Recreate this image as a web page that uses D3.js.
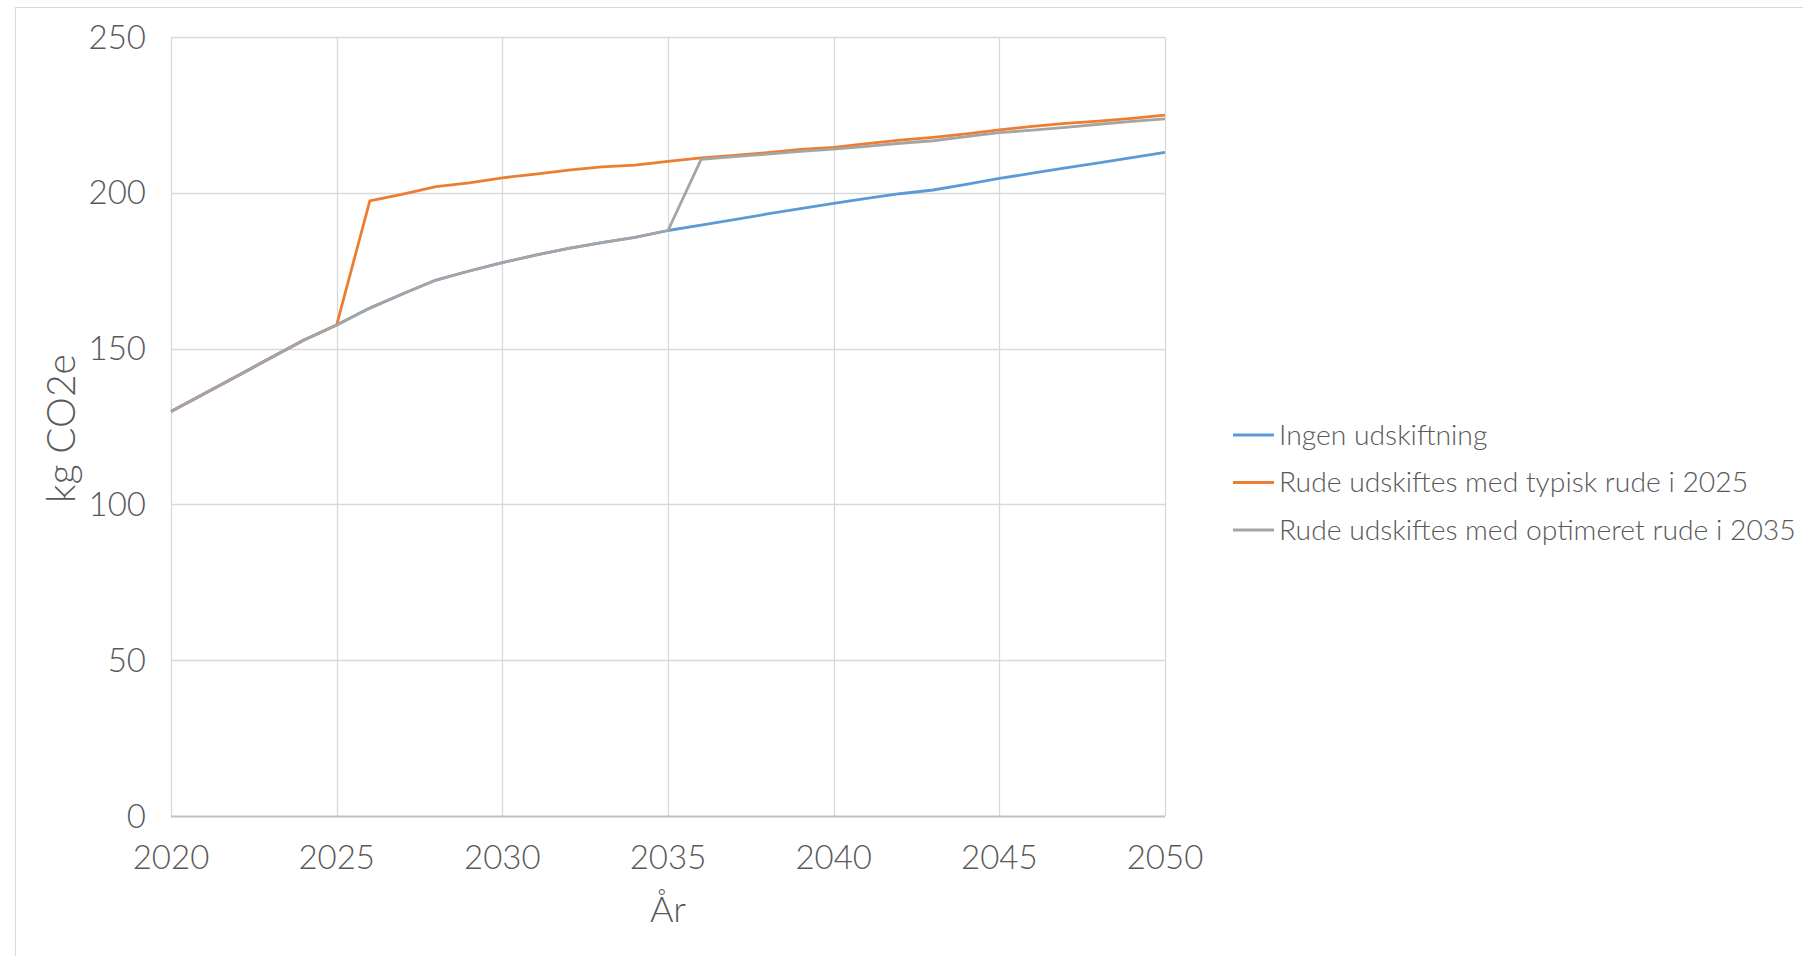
<!DOCTYPE html>
<html>
<head>
<meta charset="utf-8">
<script src="https://cdn.jsdelivr.net/npm/d3@7"></script>
<style>
  html, body { margin: 0; padding: 0; background: #fff; }
  svg text { font-family: Lato, "Open Sans", sans-serif; font-weight: 300; fill: #595959; }
</style>
</head>
<body>
<div id="chart"></div>
<script>
// years on the x axis
const years = d3.range(2020, 2051);

// kg CO2e per year
const ingenUdskiftning = [
  129.8, 135.5, 141.2, 147.0, 152.7, 157.6, 163.0, 167.6, 172.0, 174.9,
  177.6, 180.0, 182.2, 184.0, 185.7, 187.9, 189.6, 191.4, 193.2, 194.9,
  196.6, 198.2, 199.7, 200.9, 202.7, 204.6, 206.3, 208.0, 209.6, 211.3, 213.0
];
const typiskRude2025 = [
  129.8, 135.5, 141.2, 147.0, 152.7, 157.6, 197.4, 199.6, 202.0, 203.2,
  204.8, 206.0, 207.3, 208.3, 208.9, 210.1, 211.2, 212.0, 212.9, 213.9,
  214.6, 215.8, 216.9, 217.8, 218.9, 220.2, 221.3, 222.3, 223.0, 223.9, 224.9
];
const optimeretRude2035 = [
  129.8, 135.5, 141.2, 147.0, 152.7, 157.6, 163.0, 167.6, 172.0, 174.9,
  177.6, 180.0, 182.2, 184.0, 185.7, 187.9, 210.7, 211.6, 212.4, 213.3,
  214.0, 214.9, 215.9, 216.7, 218.0, 219.3, 220.1, 221.0, 222.0, 222.9, 223.7
];

const seriesNames = [
  "Ingen udskiftning",
  "Rude udskiftes med typisk rude i 2025",
  "Rude udskiftes med optimeret rude i 2035"
];
const seriesColors = ["#5b9bd5", "#ed7d31", "#a5a5a5"];
const xTicks = [2020, 2025, 2030, 2035, 2040, 2045, 2050];
const yTicks = [0, 50, 100, 150, 200, 250];

const width = 1803,
  height = 956;
const plot = { left: 171, right: 1165, top: 37, bottom: 816 };

const svg = d3
  .select("#chart")
  .append("svg")
  .attr("width", width)
  .attr("height", height);

// outer chart frame
svg
  .append("rect")
  .attr("x", 15.5)
  .attr("y", 7.5)
  .attr("width", width)
  .attr("height", height)
  .style("fill", "none")
  .style("stroke", "#d9d9d9");

const x = d3.scaleLinear().domain([2020, 2050]).range([plot.left, plot.right]);
const y = d3.scaleLinear().domain([0, 250]).range([plot.bottom, plot.top]);

// gridlines
svg
  .append("g")
  .selectAll("line.hgrid")
  .data(yTicks.filter((d) => d > 0))
  .join("line")
  .attr("x1", plot.left)
  .attr("x2", plot.right)
  .attr("y1", (d) => Math.round(y(d)) + 0.5)
  .attr("y2", (d) => Math.round(y(d)) + 0.5)
  .style("stroke", "#d9d9d9")
  .style("stroke-width", 1.3);

svg
  .append("g")
  .selectAll("line.vgrid")
  .data(xTicks)
  .join("line")
  .attr("x1", (d) => Math.round(x(d)) + 0.5)
  .attr("x2", (d) => Math.round(x(d)) + 0.5)
  .attr("y1", plot.top)
  .attr("y2", plot.bottom)
  .style("stroke", "#d9d9d9")
  .style("stroke-width", 1.3);

// x axis base line
svg
  .append("line")
  .attr("x1", plot.left)
  .attr("x2", plot.right)
  .attr("y1", Math.round(y(0)) + 0.5)
  .attr("y2", Math.round(y(0)) + 0.5)
  .style("stroke", "#bfbfbf")
  .style("stroke-width", 2);

// tick labels
svg
  .append("g")
  .selectAll("text")
  .data(yTicks)
  .join("text")
  .attr("x", plot.left - 25)
  .attr("y", (d) => y(d))
  .attr("dy", "0.35em")
  .attr("text-anchor", "end")
  .style("font-size", "33px")
  .text((d) => d);

svg
  .append("g")
  .selectAll("text")
  .data(xTicks)
  .join("text")
  .attr("x", (d) => x(d))
  .attr("y", plot.bottom + 53)
  .attr("text-anchor", "middle")
  .style("font-size", "33px")
  .text((d) => d);

// axis titles
svg
  .append("text")
  .attr("transform", `translate(75, ${(plot.top + plot.bottom) / 2 + 2}) rotate(-90)`)
  .attr("text-anchor", "middle")
  .style("font-size", "39px")
  .text("kg CO2e");

svg
  .append("text")
  .attr("x", (plot.left + plot.right) / 2)
  .attr("y", 922)
  .attr("text-anchor", "middle")
  .style("font-size", "36px")
  .text("År");

// lines
const allSeries = [ingenUdskiftning, typiskRude2025, optimeretRude2035];
const line = d3
  .line()
  .x((d, i) => x(years[i]))
  .y((d) => y(d));

svg
  .append("g")
  .selectAll("path")
  .data(allSeries)
  .join("path")
  .attr("d", line)
  .style("fill", "none")
  .style("stroke", (d, i) => seriesColors[i])
  .style("stroke-width", 2.8)
  .style("stroke-linejoin", "round");

// legend
const legend = svg
  .append("g")
  .selectAll("g")
  .data(seriesNames)
  .join("g")
  .attr("transform", (d, i) => `translate(1233, ${435 + i * 47.5})`);

legend
  .append("line")
  .attr("x1", 0)
  .attr("x2", 41)
  .style("stroke", (d, i) => seriesColors[i])
  .style("stroke-width", 2.8);

legend
  .append("text")
  .attr("x", 46)
  .attr("dy", "0.35em")
  .style("font-size", "28.3px")
  .text((d) => d);
</script>
</body>
</html>
